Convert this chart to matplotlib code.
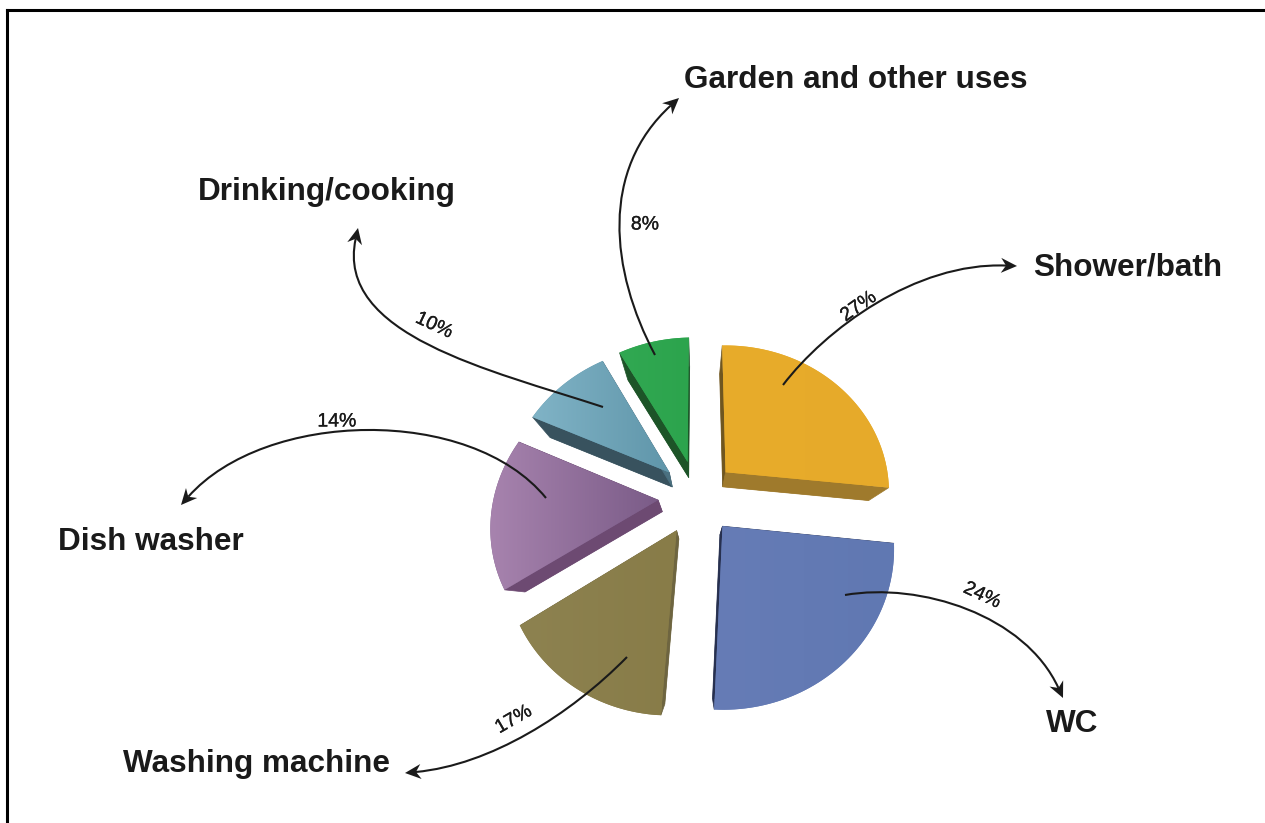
import numpy as np
import matplotlib
matplotlib.use("Agg")
import matplotlib.pyplot as plt
import matplotlib.patheffects as pe
from matplotlib.patches import Polygon, PathPatch
from matplotlib.path import Path
from matplotlib.colors import to_rgb

plt.rcParams['font.family'] = ['Liberation Sans', 'DejaVu Sans']

#------------------------------
names = ["Shower/bath", "WC", "Washing machine", "Dish washer", "Drinking/cooking", "Garden and other uses"]
shares = [27, 24, 17, 14, 10, 8]
# the picture does not draw washing machine and dish washer to their printed shares
drawn = [27, 24, 15, 16, 10, 8]

# top face gradient left -> right, then the two cut faces (start angle, end angle)
light = ["#e8ac2b", "#667cb6", "#8d8250", "#a783ae", "#80b3c6", "#31a852"]
dark = ["#e6aa2a", "#6078b2", "#887c48", "#7b5c88", "#6096aa", "#2ca44d"]
wall_s = ["#6f5620", "#27304f", "#6e6540", "#6d4a72", "#38525e", "#1d5428"]
wall_e = ["#9f7a2c", "#27304f", "#6e6540", "#6d4a72", "#4a7080", "#1d5428"]

# projection of the tilted pie
cx, cy = 697, 497
Ax, Ay = 165, 150
k = 0.135
shear = 0.018
ex = 0.236
ey = 0.25
Vx, Vy, t = 698, 610, 0.106  # extrusion goes toward this point


def project(u, v):
    d = 1 + k * v
    x = cx + Ax * u / d
    return x, cy - Ay * v / d - shear * (x - cx)


def slice_points(a0, a1):
    mid = np.radians((a0 + a1) / 2)
    ou, ov = ex * np.sin(mid), ey * np.cos(mid)
    ang = np.radians(np.linspace(a0, a1, 60))
    u = np.r_[ou, ou + np.sin(ang)]
    v = np.r_[ov, ov + np.cos(ang)]
    x, y = project(u, v)
    return np.column_stack([x, y])


def lower(p):
    return p + t * (np.array([Vx, Vy]) - p)


fig = plt.figure(figsize=(12.65, 8.23), dpi=100)
ax = fig.add_axes([0, 0, 1, 1])
ax.axis('off')

a0 = 0
for i, s in enumerate(drawn):
    a1 = a0 + s * 3.6
    top = slice_points(a0, a1)
    low = lower(top)
    ax.add_patch(Polygon(low, fc=wall_e[i], ec='none', zorder=2))
    ax.add_patch(Polygon([top[0], top[1], low[1], low[0]], fc=wall_s[i], ec=wall_s[i], lw=0.5, zorder=2))
    ax.add_patch(Polygon([top[0], top[-1], low[-1], low[0]], fc=wall_e[i], ec=wall_e[i], lw=0.5, zorder=2))
    face = Polygon(top, fc=dark[i], ec='none', zorder=3)
    ax.add_patch(face)
    c0, c1 = np.array(to_rgb(light[i])), np.array(to_rgb(dark[i]))
    g = np.linspace(0, 1, 64)[None, :, None]
    im = ax.imshow(c0 + (c1 - c0) * g, extent=[top[:, 0].min(), top[:, 0].max(), top[:, 1].max(), top[:, 1].min()],
                   aspect='auto', zorder=3.1, interpolation='bilinear')
    im.set_clip_path(face)
    a0 = a1

# arrows from slice to label
arrows = [
    [(783, 385), (825, 330), (915, 262), (1017, 266)],
    [(845, 595), (920, 582), (1025, 615), (1063, 698)],
    [(627, 657), (570, 715), (490, 765), (405, 773)],
    [(546, 498), (470, 405), (265, 410), (181, 505)],
    [(603, 407), (490, 370), (335, 335), (358, 228)],
    [(655, 355), (610, 270), (600, 170), (679, 98)],
]
head_len, head_half, notch = 16, 7.5, 5
for pts in arrows:
    tip = np.array(pts[3], float)
    d = tip - np.array(pts[2], float)
    d = d / np.hypot(*d)
    n = np.array([-d[1], d[0]])
    line = Path(pts[:3] + [tuple(tip - d * (head_len - notch))],
                [Path.MOVETO, Path.CURVE4, Path.CURVE4, Path.CURVE4])
    ax.add_patch(PathPatch(line, fc='none', ec='#1a1a1a', lw=1.5, zorder=4))
    base = tip - d * head_len
    ax.add_patch(Polygon([tip, base + n * head_half, tip - d * (head_len - notch), base - n * head_half],
                         fc='#1a1a1a', ec='none', zorder=4))

label_pos = [(1033, 276), (1046, 732), (123, 772), (58, 550), (198, 200), (684, 88)]
for n, (x, y) in zip(names, label_pos):
    ax.text(x, y, n, fontsize=22.7, fontweight='bold', color='#1a1a1a', ha='left', va='baseline', zorder=5)

pct_pos = [(859, 307, 35), (982, 596, -25), (514, 720, 30), (337, 422, 0), (434, 326, -25), (645, 225, 0)]
for s, (x, y, r) in zip(shares, pct_pos):
    ax.text(x, y, "%d%%" % s, fontsize=14, color='#1a1a1a', ha='center', va='center', rotation=r,
            rotation_mode='anchor', zorder=5,
            path_effects=[pe.withStroke(linewidth=0.2, foreground='#1a1a1a')])

# frame only on left and top
ax.plot([7, 7], [823, 10], color='black', lw=2.2, zorder=6, solid_capstyle='projecting')
ax.plot([7, 1265], [10, 10], color='black', lw=2.2, zorder=6, solid_capstyle='projecting')

ax.set_xlim(0, 1265)
ax.set_ylim(823, 0)
fig.savefig("out.png", dpi=100, facecolor='white')
